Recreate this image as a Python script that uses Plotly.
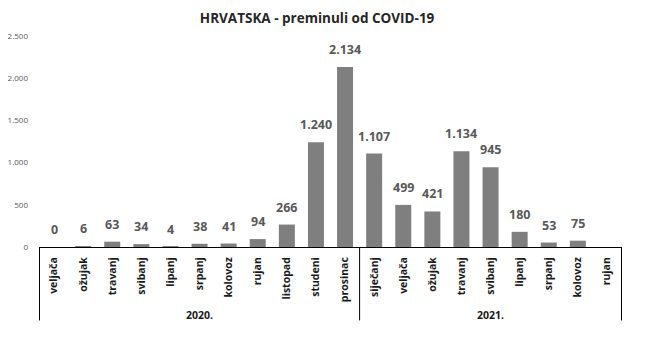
import plotly.graph_objects as go

years = ["2020."] * 11 + ["2021."] * 9
months = ["veljača", "ožujak", "travanj", "svibanj", "lipanj", "srpanj", "kolovoz", "rujan",
          "listopad", "studeni", "prosinac",
          "siječanj", "veljača", "ožujak", "travanj", "svibanj", "lipanj", "srpanj", "kolovoz", "rujan"]
deaths = [0, 6, 63, 34, 4, 38, 41, 94, 266, 1240, 2134,
          1107, 499, 421, 1134, 945, 180, 53, 75, None]
yticks = [0, 500, 1000, 1500, 2000, 2500]
year_labels = ["2020.", "2021."]


def fmt(v):
    if v is None:
        return ""
    return f"{v:,}".replace(",", ".")


keys = [f"{y} {m}" for y, m in zip(years, months)]
vals = [v if v is not None else 0 for v in deaths]

fig = go.Figure(go.Bar(
    x=keys,
    y=vals,
    marker=dict(color="#7f7f7f", line=dict(width=0)),
    hoverinfo="x+y",
))

# value labels above bars
for k, v in zip(keys, deaths):
    if v is None:
        continue
    fig.add_annotation(xref="x", yref="y", x=k, y=v, text=f"<b>{fmt(v)}</b>",
                       showarrow=False, yanchor="bottom", yshift=7,
                       font=dict(family="Open Sans", size=12.5, color="#595959"))

# group dividers and year labels, positioned on the category axis
bounds = [-0.5]
for i in range(1, len(years)):
    if years[i] != years[i - 1]:
        bounds.append(i - 0.5)
bounds.append(len(years) - 0.5)
for b in bounds:
    fig.add_shape(type="line", xref="x", yref="paper", x0=b, x1=b, y0=0, y1=-0.348,
                  line=dict(color="#000000", width=1))
for yl in year_labels:
    idx = [i for i, y in enumerate(years) if y == yl]
    fig.add_annotation(xref="x", yref="paper", x=(idx[0] + idx[-1]) / 2, y=-0.324,
                       text=f"<b>{yl}</b>", showarrow=False, yanchor="middle",
                       font=dict(family="Open Sans", size=10.5, color="#1a1a1a"))

fig.update_layout(
    width=669, height=364,
    margin=dict(l=31, r=55, t=28, b=125),
    paper_bgcolor="white", plot_bgcolor="white",
    bargap=0.45,
    showlegend=False,
    title=dict(text="<b>HRVATSKA - preminuli od COVID-19</b>", x=0.462, xanchor="center",
               xref="container", y=0.985, yanchor="top",
               font=dict(family="Open Sans", size=13.5, color="#262626")),
    font=dict(family="Open Sans"),
)
fig.update_xaxes(
    type="category",
    tickvals=keys, ticktext=months,
    showline=True, linecolor="#000000", linewidth=1,
    tickangle=-90,
    tickfont=dict(family="Open Sans", size=10.5, color="#1a1a1a", weight="bold"),
    ticks="", ticklabelstandoff=5,
    showgrid=False, automargin=False,
)
fig.update_yaxes(
    range=[0, 2500],
    tickvals=yticks,
    ticktext=[fmt(v) for v in yticks],
    tickfont=dict(family="Open Sans", size=8, color="#595959"),
    showgrid=False, zeroline=False, showline=False,
    ticklabelstandoff=10, automargin=False,
)

fig.write_html("out.html")
